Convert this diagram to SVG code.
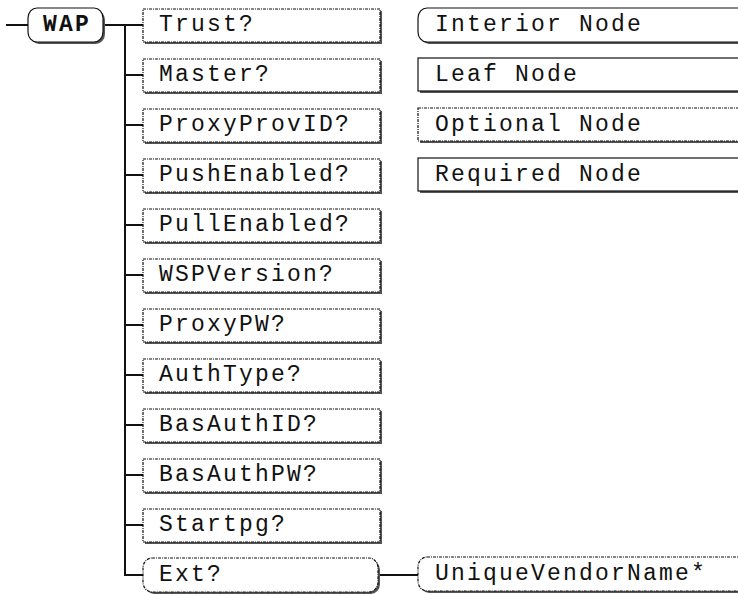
<svg xmlns="http://www.w3.org/2000/svg" width="738" height="595" viewBox="0 0 738 595">
  <style>
    text { font-family: "Liberation Mono", "Courier New", monospace; font-size: 23px; letter-spacing: 2.2px; fill: #111; }
    .shadow { fill: #555; }
    .box { fill: #fff; stroke: #111; stroke-width: 1.2; }
    .opt { stroke-dasharray: 3 1 1 1; }
    .conn { stroke: #111; stroke-width: 2; fill: none; }
  </style>
  <defs>
    <!-- optional leaf: dotted rectangle with drop shadow -->
    <g id="optLeaf">
      <rect class="shadow" x="2" y="2" width="237" height="33"/>
      <rect class="box opt" x="0" y="0" width="237" height="33"/>
    </g>
  </defs>

  <g id="connectors">
    <line class="conn" x1="6" y1="25" x2="28" y2="25"/>
    <line class="conn" x1="103" y1="25" x2="125" y2="25"/>
    <line class="conn" x1="125" y1="24" x2="125" y2="576"/>
    <path class="conn" d="M125 25H143M125 75H143M125 125H143M125 175H143M125 225H143M125 275H143M125 325H143M125 375H143M125 425H143M125 475H143M125 525H143M124 575H143"/>
    <line class="conn" x1="379" y1="575" x2="418" y2="575"/>
  </g>

  <g id="node-wap">
    <rect class="shadow" x="30" y="10" width="75" height="34" rx="9" ry="10"/>
    <rect class="box" x="28" y="8" width="75" height="34" rx="9" ry="10"/>
    <text x="43" y="31" style="font-weight:bold">WAP</text>
  </g>

  <g id="node-trust"><use href="#optLeaf" x="143" y="9"/><text x="159" y="31">Trust?</text></g>
  <g id="node-master"><use href="#optLeaf" x="143" y="59"/><text x="159" y="81">Master?</text></g>
  <g id="node-proxyprovid"><use href="#optLeaf" x="143" y="109"/><text x="159" y="131">ProxyProvID?</text></g>
  <g id="node-pushenabled"><use href="#optLeaf" x="143" y="159"/><text x="159" y="181">PushEnabled?</text></g>
  <g id="node-pullenabled"><use href="#optLeaf" x="143" y="209"/><text x="159" y="231">PullEnabled?</text></g>
  <g id="node-wspversion"><use href="#optLeaf" x="143" y="259"/><text x="159" y="281">WSPVersion?</text></g>
  <g id="node-proxypw"><use href="#optLeaf" x="143" y="309"/><text x="159" y="331">ProxyPW?</text></g>
  <g id="node-authtype"><use href="#optLeaf" x="143" y="359"/><text x="159" y="381">AuthType?</text></g>
  <g id="node-basauthid"><use href="#optLeaf" x="143" y="409"/><text x="159" y="431">BasAuthID?</text></g>
  <g id="node-basauthpw"><use href="#optLeaf" x="143" y="459"/><text x="159" y="481">BasAuthPW?</text></g>
  <g id="node-startpg"><use href="#optLeaf" x="143" y="509"/><text x="159" y="531">Startpg?</text></g>

  <g id="node-ext">
    <rect class="shadow" x="145" y="560" width="235" height="34" rx="9" ry="10"/>
    <rect class="box opt" x="143" y="558" width="235" height="34" rx="9" ry="10"/>
    <text x="159" y="581">Ext?</text>
  </g>

  <g id="node-uniquevendorname">
    <rect class="shadow" x="420" y="559" width="340" height="34" rx="9" ry="10"/>
    <rect class="box opt" x="418" y="557" width="340" height="34" rx="9" ry="10"/>
    <text x="435" y="580">UniqueVendorName*</text>
  </g>

  <!-- legend -->
  <g id="legend-interior">
    <rect class="shadow" x="420" y="10" width="340" height="34" rx="9" ry="10"/>
    <rect class="box" x="418" y="8" width="340" height="34" rx="9" ry="10"/>
    <text x="435" y="31">Interior Node</text>
  </g>
  <g id="legend-leaf">
    <rect class="shadow" x="420" y="60" width="340" height="33"/>
    <rect class="box" x="418" y="58" width="340" height="33"/>
    <text x="435" y="81">Leaf Node</text>
  </g>
  <g id="legend-optional">
    <rect class="shadow" x="420" y="110" width="340" height="33"/>
    <rect class="box opt" x="418" y="108" width="340" height="33"/>
    <text x="435" y="131">Optional Node</text>
  </g>
  <g id="legend-required">
    <rect class="shadow" x="420" y="160" width="340" height="33"/>
    <rect class="box" x="418" y="158" width="340" height="33"/>
    <text x="435" y="181">Required Node</text>
  </g>
</svg>
